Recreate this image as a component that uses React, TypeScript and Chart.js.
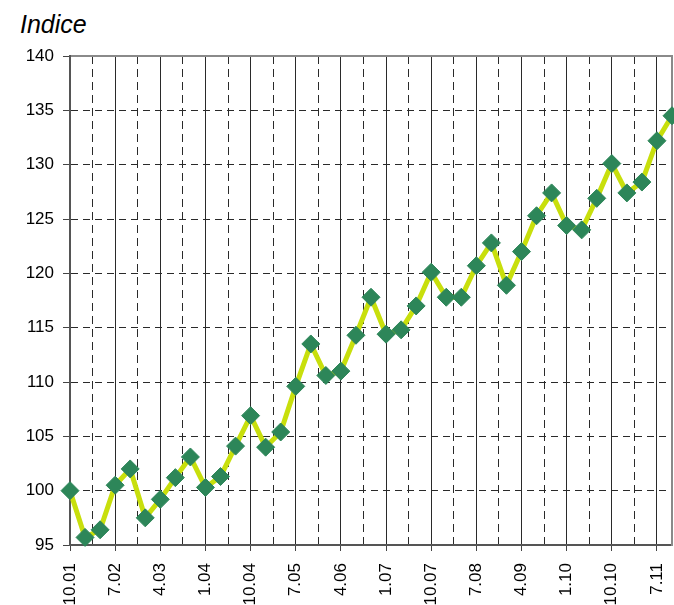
import React, { useEffect, useRef } from 'react';
import { Chart, registerables } from 'chart.js';

Chart.register(...registerables);

const quarters = [
  '10.01', '1.02', '4.02', '7.02', '10.02', '1.03', '4.03', '7.03', '10.03',
  '1.04', '4.04', '7.04', '10.04', '1.05', '4.05', '7.05', '10.05', '1.06',
  '4.06', '7.06', '10.06', '1.07', '4.07', '7.07', '10.07', '1.08', '4.08',
  '7.08', '10.08', '1.09', '4.09', '7.09', '10.09', '1.10', '4.10', '7.10',
  '10.10', '1.11', '4.11', '7.11', '10.11',
];

const indexValues = [
  100.0, 95.7, 96.4, 100.5, 102.0, 97.5, 99.2, 101.2, 103.1, 100.3, 101.3,
  104.1, 106.9, 104.0, 105.4, 109.6, 113.5, 110.6, 111.0, 114.3, 117.8, 114.4,
  114.8, 117.0, 120.1, 117.8, 117.8, 120.7, 122.8, 118.9, 122.0, 125.3, 127.4,
  124.4, 124.0, 126.9, 130.1, 127.4, 128.4, 132.2, 134.5,
];

const yMin = 95;
const yMax = 140;
const yStep = 5;
const labelEvery = 3;
const gridEvery = 1.5;
const lastGridIndex = 39;

const FONT = "'Liberation Sans', Arial, sans-serif";

export default function App() {
  const canvasRef = useRef<HTMLCanvasElement | null>(null);

  useEffect(() => {
    if (!canvasRef.current) return;
    const points = indexValues.map((v, i) => ({ x: i, y: v }));
    const isLabelTick = (ctx: any) =>
      ctx.tick && Math.abs(ctx.tick.value % labelEvery) < 1e-9;

    const chart = new Chart(canvasRef.current, {
      type: 'line',
      data: {
        datasets: [
          {
            data: points,
            borderColor: '#c8df0c',
            borderWidth: 5,
            tension: 0,
            pointStyle: 'rectRot',
            pointRadius: 9,
            pointHoverRadius: 9,
            pointBackgroundColor: '#2d8659',
            pointBorderColor: '#2d8659',
            pointBorderWidth: 1,
            clip: false as any,
          },
        ],
      },
      options: {
        responsive: false,
        animation: false,
        layout: { autoPadding: false, padding: { left: 0, top: 56, right: 2, bottom: 0 } },
        plugins: {
          legend: { display: false },
          tooltip: { enabled: false },
          title: { display: false },
        },
        scales: {
          x: {
            type: 'linear',
            position: 'bottom',
            min: 0,
            max: indexValues.length - 1,
            afterBuildTicks: (scale: any) => {
              const t = [];
              for (let v = 0; v <= lastGridIndex + 1e-9; v += gridEvery) t.push({ value: v });
              scale.ticks = t;
            },
            afterFit: (scale: any) => {
              scale.height = 60;
              scale.paddingLeft = 0;
              scale.paddingRight = 0;
            },
            ticks: {
              autoSkip: false,
              minRotation: 90,
              maxRotation: 90,
              padding: 12,
              color: '#000',
              font: { family: FONT, size: 17 },
              callback: (value: any) => {
                const v = Number(value);
                return Number.isInteger(v) && v % labelEvery === 0 ? quarters[v] : '';
              },
            },
            grid: {
              display: true,
              color: '#2a2a2a',
              lineWidth: 1,
              drawTicks: true,
              tickLength: 6,
              tickWidth: 1,
              tickColor: (ctx: any) => (isLabelTick(ctx) ? '#444' : 'rgba(0,0,0,0)'),
            },
            border: {
              display: true,
              color: '#555',
              width: 2,
              dash: (ctx: any) => (ctx.tick && !isLabelTick(ctx) ? [8, 5] : []),
            },
          },
          x2: {
            type: 'linear',
            position: 'top',
            display: true,
            ticks: { display: false },
            grid: { display: false },
            border: { display: true, color: '#8a8a8a', width: 2 },
            afterFit: (scale: any) => {
              scale.height = 0;
              scale.paddingLeft = 0;
              scale.paddingRight = 0;
            },
          },
          y: {
            type: 'linear',
            position: 'left',
            min: yMin,
            max: yMax,
            ticks: {
              stepSize: yStep,
              padding: 9,
              color: '#000',
              font: { family: FONT, size: 17 },
            },
            afterFit: (scale: any) => {
              scale.width = 70;
              scale.paddingTop = 0;
              scale.paddingBottom = 0;
            },
            grid: {
              color: (ctx: any) =>
                ctx.tick && (ctx.tick.value === yMin || ctx.tick.value === yMax)
                  ? 'rgba(0,0,0,0)'
                  : '#2a2a2a',
              lineWidth: 1,
              drawTicks: true,
              tickLength: 7,
              tickWidth: 1,
              tickColor: '#444',
            },
            border: {
              display: true,
              color: '#555',
              width: 2,
              dash: (ctx: any) => (ctx.tick ? [7, 5] : []),
            },
          },
          y2: {
            type: 'linear',
            position: 'right',
            display: true,
            ticks: { display: false },
            grid: { display: false },
            border: { display: true, color: '#8a8a8a', width: 2 },
            afterFit: (scale: any) => {
              scale.width = 0;
              scale.paddingTop = 0;
              scale.paddingBottom = 0;
            },
          },
        },
      } as any,
    });
    return () => chart.destroy();
  }, []);

  return (
    <div style={{ position: 'fixed', left: 0, top: 0, width: 674, height: 605, background: '#fff' }}>
      <div
        style={{
          position: 'absolute',
          left: 20,
          top: 9,
          fontFamily: FONT,
          fontStyle: 'italic',
          fontSize: 25,
          color: '#000',
          lineHeight: '30px',
        }}
      >
        Indice
      </div>
      <canvas ref={canvasRef} width={674} height={605} style={{ position: 'absolute', left: 0, top: 0 }} />
    </div>
  );
}
